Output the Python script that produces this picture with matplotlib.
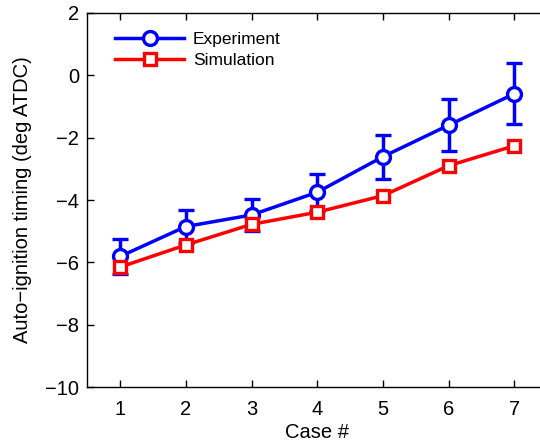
import numpy as np
import matplotlib
matplotlib.use('Agg')
import matplotlib.pyplot as plt
from matplotlib.lines import Line2D

# Auto-ignition timing per case: measured (with spread) vs. simulated
cases = [1, 2, 3, 4, 5, 6, 7]
experiment = [-5.81, -4.85, -4.48, -3.75, -2.61, -1.60, -0.59]
experiment_err = [0.56, 0.53, 0.51, 0.60, 0.70, 0.84, 0.97]
simulation = [-6.15, -5.44, -4.78, -4.39, -3.86, -2.90, -2.26]

plt.rcParams['font.family'] = ['Liberation Sans', 'DejaVu Sans']

BLUE = '#0000ff'
RED = '#ff0000'
LW = 2.5

fig = plt.figure(figsize=(5.4, 4.44), dpi=100)
ax = fig.add_axes([0.1615, 0.128, 0.852, 0.843])

exp_style = dict(color=BLUE, lw=LW, marker='o', ms=10, mfc='white', mec=BLUE, mew=2.4)
sim_style = dict(color=RED, lw=LW, marker='s', ms=8.5, mfc='white', mec=RED, mew=2.4)

ax.errorbar(cases, experiment, yerr=experiment_err, capsize=6, capthick=LW,
            elinewidth=LW, zorder=3, **exp_style)
ax.plot(cases, simulation, zorder=4, **sim_style)

ax.set_xlim(0.5, 7.5)
ax.set_ylim(-10, 2)
ax.set_xticks(cases)
ax.set_yticks(np.arange(-10, 3, 2))
ax.tick_params(direction='in', length=5, width=1, top=True, right=True,
               labelsize=14.5)
ax.tick_params(axis='x', pad=9)
ax.tick_params(axis='y', pad=6)
ax.set_xlabel('Case #', fontsize=14.5, labelpad=3)
ax.set_ylabel('Auto\u2212ignition timing (deg ATDC)', fontsize=14.5, labelpad=9)

# legend shows plain line + marker, without the error bars
handles = [Line2D([], [], **exp_style), Line2D([], [], **sim_style)]
ax.legend(handles, ['Experiment', 'Simulation'], loc='upper left', frameon=False,
          fontsize=12.5, handlelength=4.0, handletextpad=0.5, labelspacing=0.3,
          borderaxespad=0.0, bbox_to_anchor=(0.045, 0.967))

for s in ax.spines.values():
    s.set_linewidth(1)
ax.spines['right'].set_visible(False)

fig.savefig('out.png', dpi=100)
